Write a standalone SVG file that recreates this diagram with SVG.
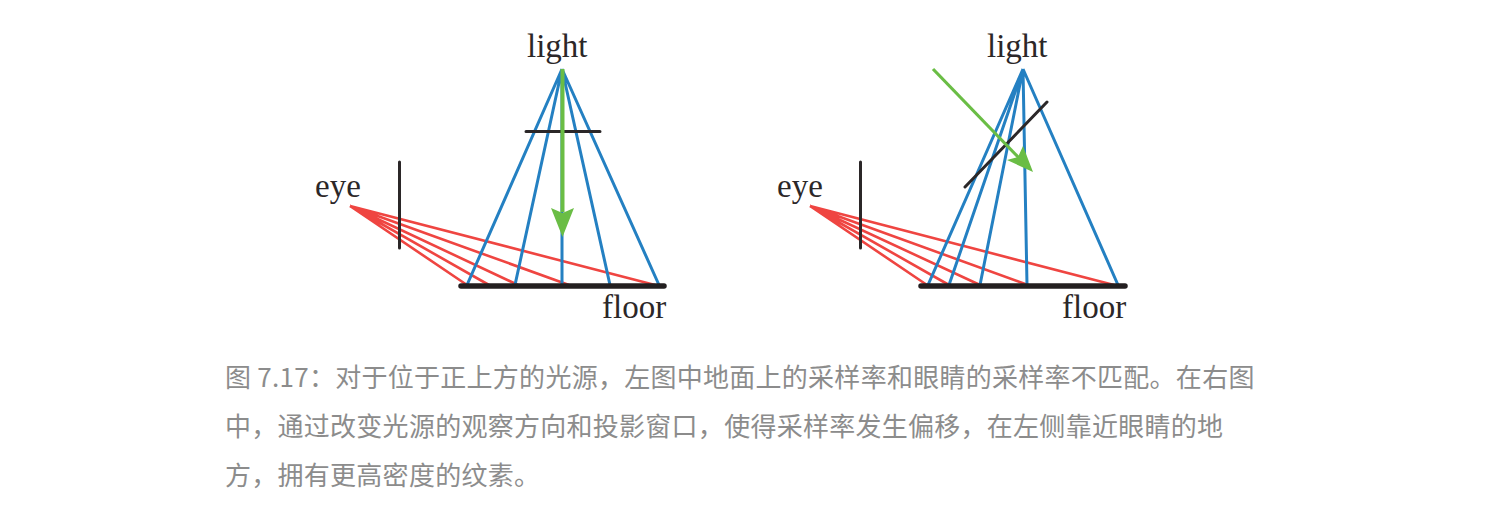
<svg xmlns="http://www.w3.org/2000/svg" width="1504" height="509" viewBox="0 0 1504 509">
<style>
.lbl{font-family:"Liberation Serif","Times New Roman",serif;font-size:33px;fill:#2b2728}
.cap{font-family:"Noto Sans CJK SC","Noto Sans",sans-serif;font-size:26px;letter-spacing:.27px;fill:#8c8c8c}
.b{stroke:#2480c2;stroke-width:3;fill:none}
.r{stroke:#ef4541;stroke-width:2.600;fill:none}
.k{stroke:#2b2728;stroke-width:3;fill:none;stroke-linecap:round}
.f{stroke:#231f20;stroke-width:5.500;fill:none;stroke-linecap:round}
.g{stroke:#6abd45;fill:none}
.gh{fill:#6abd45}
</style>
<rect width="1504" height="509" fill="#fff"/>
<g id="left-diagram">
<g id="left-connectors">
<path class="r" d="M350 206L467 285M350 206L489 285M350 206L518 285M350 206L569 285M350 206L655 285"/>
<path class="b" d="M562 69L467 285M562 69L515 285M562 69L562 285M562 69L610 285M562 69L659 285"/>
<path class="k" d="M399.500 162V248M526 131.500H600"/>
<path class="f" d="M461 286H664"/>
<path class="g" stroke-width="4" d="M562.500 69V212"/>
<path class="gh" d="M551 208L562.500 213L574 208L562.500 237Z"/>
</g>
<text id="left-light" class="lbl" x="527" y="56.500">light</text>
<text id="left-eye" class="lbl" x="315" y="197">eye</text>
<text id="left-floor" class="lbl" x="602" y="318">floor</text>
</g>
<g id="right-diagram">
<g id="right-connectors">
<path class="r" d="M810 206L927 285M810 206L949 285M810 206L980 285M810 206L1028 285M810 206L1114 285"/>
<path class="b" d="M1023 69L928 285M1023 69L949 285M1023 69L980 285M1023 69L1027 285M1023 69L1118 285"/>
<path class="k" d="M860.500 162V248M965 187L1047 102"/>
<path class="f" d="M921 286H1125"/>
<path class="g" stroke-width="3.200" d="M933 69L1019 158"/>
<path class="gh" d="M1023 146L1018 157L1007 160L1033 172Z"/>
</g>
<text id="right-light" class="lbl" x="987" y="56.500">light</text>
<text id="right-eye" class="lbl" x="777" y="197">eye</text>
<text id="right-floor" class="lbl" x="1062" y="318">floor</text>
</g>
<g id="caption">
<text class="cap" x="225" y="387">图 7.17：对于位于正上方的光源，左图中地面上的采样率和眼睛的采样率不匹配。在右图</text>
<text class="cap" x="225" y="436">中，通过改变光源的观察方向和投影窗口，使得采样率发生偏移，在左侧靠近眼睛的地</text>
<text class="cap" x="225" y="485">方，拥有更高密度的纹素。</text>
</g>
</svg>
